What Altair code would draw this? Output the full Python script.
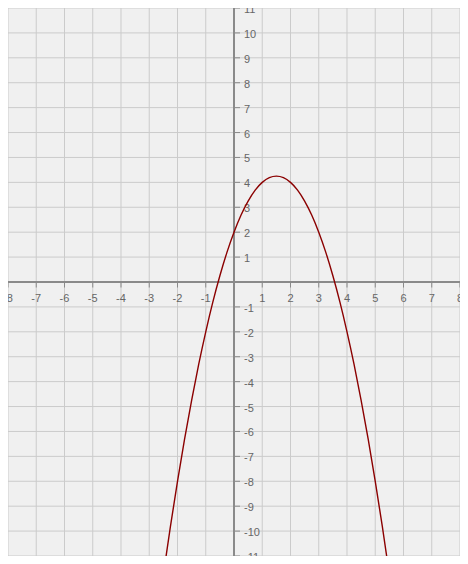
import altair as alt
import pandas as pd

# ---- data ----
x_grid = [-8, -7, -6, -5, -4, -3, -2, -1, 0, 1, 2, 3, 4, 5, 6, 7, 8]
y_grid = [-11, -10, -9, -8, -7, -6, -5, -4, -3, -2, -1, 0, 1, 2, 3, 4, 5, 6, 7, 8, 9, 10, 11]
x_tick_values = [-8, -7, -6, -5, -4, -3, -2, -1, 1, 2, 3, 4, 5, 6, 7, 8]
y_tick_values = [-11, -10, -9, -8, -7, -6, -5, -4, -3, -2, -1, 1, 2, 3, 4, 5, 6, 7, 8, 9, 10, 11]

curve_x = [-2.5, -2.25, -2.0, -1.75, -1.5, -1.25, -1.0, -0.75, -0.5, -0.25, 0.0,
           0.25, 0.5, 0.75, 1.0, 1.25, 1.5, 1.75, 2.0, 2.25, 2.5, 2.75, 3.0,
           3.25, 3.5, 3.75, 4.0, 4.25, 4.5, 4.75, 5.0, 5.25, 5.5]
curve_y = [-11.75, -9.81, -8.0, -6.31, -4.75, -3.31, -2.0, -0.81, 0.25, 1.19, 2.0,
           2.69, 3.25, 3.69, 4.0, 4.19, 4.25, 4.19, 4.0, 3.69, 3.25, 2.69, 2.0,
           1.19, 0.25, -0.81, -2.0, -3.31, -4.75, -6.31, -8.0, -9.81, -11.75]

X_DOMAIN = [-8, 8]
Y_DOMAIN = [-11, 11]

xs = alt.Scale(domain=X_DOMAIN, nice=False, zero=False)
ys = alt.Scale(domain=Y_DOMAIN, nice=False, zero=False)


def X(f):
    return alt.X(f, type="quantitative", scale=xs, axis=None)


def Y(f):
    return alt.Y(f, type="quantitative", scale=ys, axis=None)


GRID = "#cbcbcb"
AXIS = "#8a8a8a"
LABEL = "#666666"
FONT = "Liberation Sans"

vgrid = alt.Chart(pd.DataFrame({"x": x_grid})).mark_rule(
    color=GRID, strokeWidth=1).encode(x=X("x"))
hgrid = alt.Chart(pd.DataFrame({"y": y_grid})).mark_rule(
    color=GRID, strokeWidth=1).encode(y=Y("y"))

xaxis = alt.Chart(pd.DataFrame({"y": [0]})).mark_rule(
    color=AXIS, strokeWidth=2).encode(y=Y("y"))
yaxis = alt.Chart(pd.DataFrame({"x": [0]})).mark_rule(
    color=AXIS, strokeWidth=2).encode(x=X("x"))

xt_df = pd.DataFrame({"x": x_tick_values, "y": [0] * len(x_tick_values),
                      "label": [str(v) for v in x_tick_values]})
yt_df = pd.DataFrame({"x": [0] * len(y_tick_values), "y": y_tick_values,
                      "label": [str(v) for v in y_tick_values]})

xticks = alt.Chart(xt_df).mark_tick(
    orient="vertical", size=5, thickness=1, color=AXIS, opacity=1, yOffset=3
).encode(x=X("x"), y=Y("y"))
yticks = alt.Chart(yt_df).mark_tick(
    orient="horizontal", size=5, thickness=1, color=AXIS, opacity=1, xOffset=3.5
).encode(x=X("x"), y=Y("y"))

xlabels = alt.Chart(xt_df).mark_text(
    align="center", baseline="middle", dy=17, fontSize=11, color=LABEL, font=FONT
).encode(x=X("x"), y=Y("y"), text="label:N")
ylabels = alt.Chart(yt_df).mark_text(
    align="left", baseline="middle", dx=10, dy=2, fontSize=11, color=LABEL, font=FONT
).encode(x=X("x"), y=Y("y"), text="label:N")

curve = alt.Chart(pd.DataFrame({"x": curve_x, "y": curve_y})).mark_line(
    color="#8b0000", strokeWidth=1.4, clip=True, interpolate="monotone"
).encode(x=X("x"), y=Y("y"), order="x:Q")

chart = alt.layer(
    vgrid, hgrid, xaxis, yaxis, xticks, yticks, xlabels, ylabels, curve
).properties(
    width=452, height=548,
    autosize=alt.AutoSizeParams(type="none"),
    padding=0,
    background="#f0f0f0",
).configure_view(stroke=None, fill="#f0f0f0")

chart.save("out.html", embed_options={"renderer": "svg", "actions": False})
